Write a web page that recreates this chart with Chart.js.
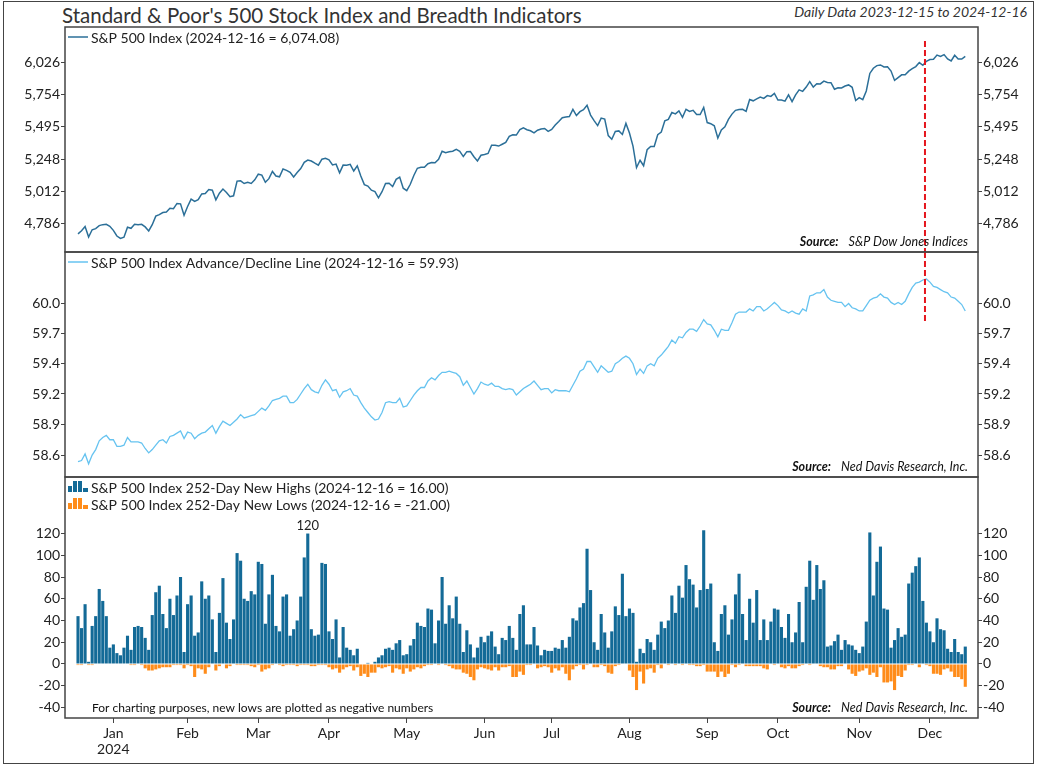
<!DOCTYPE html>
<html>
<head>
<meta charset="utf-8">
<title>S&amp;P 500 Stock Index and Breadth Indicators</title>
<script src="https://cdn.jsdelivr.net/npm/chart.js@4.4.1/dist/chart.umd.min.js"></script>
<style>
  body { margin: 0; background: #fff; font-family: Lato, sans-serif; }
  #frame { position: absolute; left: 3px; top: 1px; width: 1031px; height: 763px; border: 1.5px solid #444; box-sizing: border-box; }
  #title { position: absolute; left: 62px; top: 5px; font-size: 20.5px; line-height: 1; color: #333; white-space: nowrap; }
  #range { position: absolute; right: 11px; top: 5px; font-size: 14px; line-height: 1; font-style: italic; color: #333; white-space: nowrap; }
  .panel { position: absolute; left: 0; width: 1038px; }
</style>
</head>
<body>
<div id="frame"></div>
<div id="title">Standard &amp; Poor's 500 Stock Index and Breadth Indicators</div>
<div id="range">Daily Data 2023-12-15 to 2024-12-16</div>
<div class="panel" style="top:26px;height:227px"><canvas id="spx"></canvas></div>
<div class="panel" style="top:251px;height:227px"><canvas id="ad"></canvas></div>
<div class="panel" style="top:476px;height:288px"><canvas id="nhnl"></canvas></div>

<script>
// trading days 2023-12-15 .. 2024-12-16, x = day index
var monthLabels = ['Jan', 'Feb', 'Mar', 'Apr', 'May', 'Jun', 'Jul', 'Aug', 'Sep', 'Oct', 'Nov', 'Dec'];
var monthStarts = [10, 31, 51, 71, 93, 115, 134, 156, 178, 198, 221, 241];

var spTicks = [4786, 5012, 5248, 5495, 5754, 6026];
var adTicks = [58.60, 58.88, 59.16, 59.44, 59.72, 60.00];
var nhTicks = [-40, -20, 0, 20, 40, 60, 80, 100, 120];

//S&P 500 daily close
var spx = [
  4719.19, 4740.56, 4768.37, 4698.35, 4746.75, 4754.63, 4774.75, 4781.58, 4783.35, 4769.83,
  4742.83, 4704.81, 4688.68, 4697.24, 4763.54, 4756.50, 4783.45, 4780.24, 4783.83, 4765.98, 4739.21,
  4780.94, 4839.81, 4850.43, 4864.60, 4868.55, 4894.16, 4890.97, 4927.93, 4924.97, 4845.65,
  4906.19, 4958.61, 4942.81, 4954.23, 4995.06, 4997.91, 5026.61, 5021.84, 4953.17, 5000.62,
  5029.73, 5005.57, 4975.51, 4981.80, 5087.03, 5088.80, 5069.53, 5078.18, 5069.76, 5096.27,
  5137.08, 5130.95, 5078.65, 5104.76, 5157.36, 5123.69, 5117.94, 5175.27, 5165.31, 5150.48,
  5117.09, 5149.42, 5178.51, 5224.62, 5241.53, 5234.18, 5218.19, 5203.58, 5248.49, 5254.35,
  5243.77, 5205.81, 5211.49, 5147.21, 5204.34, 5202.39, 5209.91, 5160.64, 5199.06, 5123.41, 5061.82,
  5051.41, 5022.21, 5011.12, 4967.23, 5010.60, 5070.55, 5071.63, 5048.42, 5099.96, 5116.17, 5035.69,
  5018.39, 5064.20, 5127.79, 5180.74, 5187.70, 5187.67, 5214.08, 5222.68, 5221.42, 5246.68, 5308.15,
  5297.10, 5303.27, 5308.13, 5321.41, 5307.01, 5267.84, 5304.72, 5306.04, 5266.95, 5235.48, 5277.51,
  5283.40, 5291.34, 5354.03, 5352.96, 5346.99, 5360.79, 5375.32, 5421.03, 5433.74, 5431.60,
  5473.23, 5487.03, 5473.17, 5464.62, 5447.87, 5469.30, 5477.90, 5482.87, 5460.48,
  5475.09, 5509.01, 5537.02, 5567.19, 5572.85, 5576.98, 5633.91, 5584.54, 5615.35, 5631.22, 5667.20,
  5588.27, 5544.59, 5505.00, 5564.41, 5555.74, 5427.13, 5399.22, 5459.10, 5463.54, 5436.44, 5522.30,
  5446.68, 5346.56, 5186.33, 5240.03, 5199.50, 5319.31, 5344.16, 5344.39, 5434.43, 5455.21, 5543.22,
  5554.25, 5608.25, 5597.12, 5620.85, 5570.64, 5634.61, 5616.84, 5625.80, 5592.18, 5591.96, 5648.40,
  5528.93, 5520.07, 5503.41, 5408.42, 5471.05, 5495.52, 5554.13, 5595.76, 5626.02, 5633.09,
  5634.58, 5618.26, 5713.64, 5702.55, 5718.57, 5732.93, 5722.26, 5745.37, 5738.17, 5762.48,
  5708.75, 5709.54, 5699.94, 5751.07, 5695.94, 5751.13, 5792.04, 5780.05, 5815.03, 5859.85, 5815.26, 5842.47,
  5841.47, 5864.67, 5853.98, 5851.20, 5797.42, 5809.86, 5808.12, 5823.52, 5832.92, 5813.67, 5705.45,
  5728.80, 5712.69, 5782.76, 5929.04, 5973.10, 5995.54, 6001.35, 5983.99, 5985.38, 5949.17,
  5870.62, 5893.62, 5916.98, 5917.11, 5948.71, 5969.34, 5987.37, 6021.63, 5998.74, 6032.38,
  6047.15, 6049.88, 6086.49, 6075.11, 6090.27, 6052.85, 6034.91, 6084.19, 6051.25, 6051.09, 6074.08
];

//Advance/Decline line
var adLine = [
  58.54, 58.55, 58.61, 58.52, 58.60, 58.65, 58.73, 58.76, 58.78, 58.74,
  58.74, 58.68, 58.68, 58.69, 58.76, 58.72, 58.72, 58.72, 58.71, 58.66,
  58.62, 58.65, 58.69, 58.73, 58.74, 58.71, 58.77, 58.78, 58.80, 58.82,
  58.75, 58.81, 58.80, 58.75, 58.78, 58.80, 58.81, 58.84, 58.87, 58.80,
  58.86, 58.91, 58.89, 58.87, 58.90, 58.93, 58.97, 58.94, 58.95, 58.96,
  58.97, 59.00, 59.03, 59.01, 59.05, 59.10, 59.11, 59.12, 59.14, 59.14,
  59.08, 59.08, 59.11, 59.16, 59.21, 59.25, 59.20, 59.18, 59.17, 59.24,
  59.29, 59.25, 59.19, 59.20, 59.13, 59.18, 59.19, 59.21, 59.15, 59.14,
  59.08, 59.03, 58.99, 58.95, 58.92, 58.93, 58.99, 59.08, 59.09, 59.08,
  59.08, 59.12, 59.04, 59.05, 59.10, 59.15, 59.19, 59.22, 59.22, 59.28,
  59.31, 59.29, 59.33, 59.36, 59.36, 59.37, 59.36, 59.35, 59.32, 59.24,
  59.28, 59.22, 59.16, 59.21, 59.27, 59.25, 59.24, 59.26, 59.23, 59.23,
  59.21, 59.20, 59.21, 59.20, 59.15, 59.18, 59.21, 59.23, 59.25, 59.28,
  59.24, 59.20, 59.21, 59.21, 59.17, 59.20, 59.19, 59.19, 59.19, 59.18,
  59.24, 59.30, 59.37, 59.39, 59.46, 59.46, 59.41, 59.36, 59.42, 59.39,
  59.36, 59.37, 59.44, 59.46, 59.49, 59.51, 59.49, 59.44, 59.34, 59.39,
  59.35, 59.42, 59.44, 59.42, 59.49, 59.52, 59.56, 59.60, 59.66, 59.63,
  59.69, 59.68, 59.73, 59.76, 59.76, 59.74, 59.79, 59.85, 59.81, 59.80,
  59.75, 59.69, 59.76, 59.75, 59.75, 59.82, 59.90, 59.92, 59.92, 59.92,
  59.95, 59.93, 59.97, 59.97, 59.93, 59.95, 59.98, 60.01, 59.98, 59.94,
  59.93, 59.91, 59.93, 59.91, 59.90, 59.95, 59.93, 60.07, 60.08, 60.10,
  60.10, 60.13, 60.06, 60.03, 60.02, 60.01, 60.01, 59.97, 60.00, 59.96,
  59.95, 59.93, 59.93, 59.98, 60.03, 60.05, 60.06, 60.09, 60.06, 60.05,
  60.01, 59.99, 60.01, 59.99, 60.02, 60.09, 60.15, 60.19, 60.20, 60.22,
  60.23, 60.20, 60.16, 60.15, 60.13, 60.11, 60.10, 60.06, 60.05, 60.02,
  59.99, 59.93
];

//252-day new highs
var newHighs = [
  44, 33, 55, 2, 35, 44, 69, 58, 44, 15,
  18, 10, 8, 15, 26, 13, 34, 35, 34, 24,
  13, 45, 66, 72, 46, 33, 60, 45, 63, 80,
  11, 55, 63, 26, 29, 76, 60, 63, 41, 11,
  47, 79, 38, 23, 41, 102, 95, 60, 58, 67,
  64, 94, 92, 37, 64, 82, 35, 30, 62, 64,
  26, 32, 40, 62, 98, 120, 32, 26, 27, 93,
  92, 30, 23, 41, 6, 34, 15, 13, 8, 14,
  0, 0, 1, 0, 2, 6, 8, 14, 15, 13,
  19, 22, 8, 9, 17, 23, 38, 35, 34, 51,
  50, 19, 40, 80, 37, 54, 42, 62, 37, 11,
  31, 18, 6, 15, 25, 20, 26, 30, 16, 9,
  24, 22, 35, 24, 13, 46, 54, 18, 18, 34,
  17, 8, 13, 12, 12, 15, 14, 22, 15, 25,
  42, 40, 52, 56, 106, 68, 20, 13, 46, 29,
  15, 30, 53, 45, 83, 44, 51, 47, 2, 14,
  10, 23, 20, 13, 27, 39, 33, 40, 63, 47,
  72, 61, 91, 78, 73, 52, 68, 123, 69, 74,
  20, 12, 46, 54, 27, 41, 64, 83, 46, 22,
  60, 38, 68, 22, 41, 22, 39, 51, 50, 34,
  24, 46, 20, 29, 57, 20, 71, 95, 59, 91,
  69, 77, 16, 17, 21, 27, 13, 22, 18, 17,
  13, 10, 16, 39, 121, 63, 94, 108, 51, 50,
  15, 22, 33, 25, 27, 74, 84, 90, 98, 58,
  38, 30, 20, 42, 32, 31, 14, 11, 23, 11,
  9, 16
];

//252-day new lows, plotted negative
var newLows = [
  -1, -1, 0, -1, -1, 0, 0, 0, 0, 0,
  0, 0, 0, 0, 0, -1, -1, 0, -1, -4,
  -6, -6, -5, -4, -3, -3, -3, -1, -1, -1,
  -4, -1, -2, -12, -4, -5, -9, -3, 0, -6,
  -2, 0, -4, -2, 0, -1, -1, -1, -1, -2,
  -3, -1, -7, -5, -4, -1, 0, -1, -2, -1,
  -1, -1, -2, -1, -1, -1, -2, -2, -1, -1,
  -1, -3, -5, -4, -8, -5, -3, -2, -6, -3,
  -11, -9, -12, -8, -8, -3, -4, -3, -2, -8,
  -4, -5, -9, -4, -7, -5, -3, -4, -2, -1,
  -1, 0, -1, 0, -1, -2, -4, -5, -5, -8,
  -9, -12, -15, -5, -3, -4, -5, -6, -3, -6,
  -3, -3, -2, -12, -12, -7, -10, -1, -1, 0,
  -4, -3, -2, -3, -8, -4, -6, -3, -9, -15,
  -5, -2, -1, -5, -1, 0, -3, -3, -1, -2,
  -8, -9, -2, -1, 0, 0, -6, -12, -24, -7,
  -18, -5, -4, -8, -1, -4, 0, -1, 0, -1,
  0, -1, 0, -1, -1, -2, -2, -1, -7, -7,
  -7, -12, -7, -12, -9, -1, -3, -1, 0, -2,
  -2, -2, -2, -2, -4, -5, 0, -1, 0, -3,
  -4, -2, -4, -4, -2, -1, 0, -1, 0, 0,
  -2, -3, -3, -5, -5, -2, -2, 0, -5, -9,
  -11, -7, -6, -4, -10, -8, -12, -3, -17, -17,
  -16, -24, -11, -12, -6, -1, -1, 0, -3, 0,
  -1, -2, -9, -9, -10, -5, -4, -7, -12, -12,
  -14, -21
];

var markDay = 239.6;  //red dashed marker
var labelDay = 65;    //bar with the "120" callout

var xMin = -3.68, xMax = 254.6;
var LEFT_W = 65, RIGHT_W = 60;

Chart.defaults.font.family = 'Lato';
Chart.defaults.color = '#222';

function points(arr) {
    return arr.map(function(v, i) { return {x: i, y: v}; });
}

function sideAxis(pos, type, min, max, ticks, fmt) {
    return {
        type: type,
        position: pos,
        min: min,
        max: max,
        afterBuildTicks: function(s) { s.ticks = ticks.map(function(v) { return {value: v}; }); },
        afterFit: function(s) {
            s.width = pos === 'left' ? LEFT_W : RIGHT_W;
            //no reserved space for half labels at the ends
            s.paddingTop = 0;
            s.paddingBottom = 0;
        },
        ticks: {callback: fmt, autoSkip: false, padding: 1, font: {size: 14}, color: '#222'},
        grid: {drawOnChartArea: false, drawTicks: true, tickLength: 4, color: '#444'},
        border: {display: false}
    };
}

//panel box
var framePlugin = {
    id: 'frame',
    afterDraw: function(chart) {
        var ctx = chart.ctx, a = chart.chartArea;
        ctx.save();
        ctx.strokeStyle = '#444';
        ctx.lineWidth = 1.5;
        ctx.strokeRect(a.left, a.top, a.right - a.left, a.bottom - a.top);
        ctx.restore();
    }
};

//legend inside the panel, top left
var keyPlugin = {
    id: 'key',
    afterDraw: function(chart, args, opts) {
        var ctx = chart.ctx, a = chart.chartArea;
        ctx.save();
        ctx.font = '14px Lato';
        ctx.textBaseline = 'middle';
        (opts.items || []).forEach(function(it, k) {
            var x = a.left + 3, y = a.top + 10 + k * 17;
            if (it.kind === 'bars') {
                ctx.fillStyle = it.color;
                ctx.fillRect(x, y - 1, 4, 6);
                ctx.fillRect(x + 5, y - 6, 4, 11);
                ctx.fillRect(x + 10, y - 6, 4, 11);
                ctx.fillRect(x + 15, y + 1, 5, 4);
            } else {
                ctx.strokeStyle = it.color;
                ctx.lineWidth = 1.5;
                ctx.beginPath();
                ctx.moveTo(x, y);
                ctx.lineTo(x + 20, y);
                ctx.stroke();
            }
            ctx.fillStyle = '#222';
            ctx.fillText(it.text, x + 23, y + 1);
        });
        ctx.restore();
    }
};

//source line bottom right, optional note bottom left
var sourcePlugin = {
    id: 'source',
    afterDraw: function(chart, args, opts) {
        if (!opts.text) return;
        var ctx = chart.ctx, a = chart.chartArea;
        var y = a.bottom - 10;
        var x = a.right - 10;
        ctx.save();
        ctx.fillStyle = '#111';
        ctx.textBaseline = 'middle';
        ctx.textAlign = 'right';
        ctx.font = 'italic 12.5px Lato';
        ctx.fillText(opts.text, x, y);
        x -= ctx.measureText(opts.text).width + 10;
        ctx.font = 'italic bold 12.5px Lato';
        ctx.fillText('Source:', x, y);
        if (opts.note) {
            ctx.textAlign = 'left';
            ctx.font = '12px Lato';
            ctx.fillText(opts.note, a.left + 27, y);
        }
        ctx.restore();
    }
};

//red dashed marker line
var markPlugin = {
    id: 'mark',
    afterDatasetsDraw: function(chart, args, opts) {
        if (opts.at === undefined) return;
        var ctx = chart.ctx, a = chart.chartArea, sy = chart.scales.y;
        var x = chart.scales.x.getPixelForValue(opts.at);
        var y0 = opts.from !== undefined ? sy.getPixelForValue(opts.from) : a.top;
        var y1 = opts.to !== undefined ? sy.getPixelForValue(opts.to) : a.bottom;
        ctx.save();
        ctx.strokeStyle = '#e5161d';
        ctx.lineWidth = 2;
        ctx.setLineDash([6, 3]);
        ctx.beginPath();
        ctx.moveTo(x, y0);
        ctx.lineTo(x, y1);
        ctx.stroke();
        ctx.restore();
    }
};

//value callout above one bar
var peakPlugin = {
    id: 'peak',
    afterDatasetsDraw: function(chart, args, opts) {
        if (opts.at === undefined) return;
        var p = chart.data.datasets[0].data[opts.at];
        var ctx = chart.ctx;
        ctx.save();
        ctx.font = '13px Lato';
        ctx.fillStyle = '#222';
        ctx.textAlign = 'center';
        ctx.textBaseline = 'bottom';
        ctx.fillText(String(p.y), chart.scales.x.getPixelForValue(p.x), chart.scales.y.getPixelForValue(p.y) - 1);
        ctx.restore();
    }
};

var hiddenX = {type: 'linear', min: xMin, max: xMax, display: false};
var basePlugins = [framePlugin, keyPlugin, sourcePlugin, markPlugin, peakPlugin];
var fmtComma = function(v) { return Math.round(v).toLocaleString('en-US'); };
var fmtOne = function(v) { return v.toFixed(1); };

new Chart(document.getElementById('spx'), {
    type: 'line',
    data: {
        datasets: [{
            data: points(spx),
            borderColor: '#2b6f98',
            borderWidth: 1.5,
            pointRadius: 0,
            tension: 0
        }]
    },
    options: {
        responsive: true,
        maintainAspectRatio: false,
        animation: false,
        events: [],
        layout: {padding: {top: 1, bottom: 1, left: 0, right: 0}},
        scales: {
            x: hiddenX,
            y: sideAxis('left', 'logarithmic', 4599, 6334, spTicks, fmtComma),
            y2: sideAxis('right', 'logarithmic', 4599, 6334, spTicks, fmtComma)
        },
        plugins: {
            legend: {display: false},
            tooltip: {enabled: false},
            key: {items: [{kind: 'line', color: '#2b6f98', text: 'S&P 500 Index (2024-12-16 = 6,074.08)'}]},
            source: {text: 'S&P Dow Jones Indices'},
            mark: {at: markDay, from: 6209}
        }
    },
    plugins: basePlugins
});

new Chart(document.getElementById('ad'), {
    type: 'line',
    data: {
        datasets: [{
            data: points(adLine),
            borderColor: '#66c3f0',
            borderWidth: 1.3,
            pointRadius: 0,
            tension: 0
        }]
    },
    options: {
        responsive: true,
        maintainAspectRatio: false,
        animation: false,
        events: [],
        layout: {padding: {top: 1, bottom: 1, left: 0, right: 0}},
        scales: {
            x: hiddenX,
            y: sideAxis('left', 'logarithmic', 58.421, 60.483, adTicks, fmtOne),
            y2: sideAxis('right', 'logarithmic', 58.421, 60.483, adTicks, fmtOne)
        },
        plugins: {
            legend: {display: false},
            tooltip: {enabled: false},
            key: {items: [{kind: 'line', color: '#66c3f0', text: 'S&P 500 Index Advance/Decline Line (2024-12-16 = 59.93)'}]},
            source: {text: 'Ned Davis Research, Inc.'},
            mark: {at: markDay, to: 59.83}
        }
    },
    plugins: basePlugins
});

new Chart(document.getElementById('nhnl'), {
    type: 'bar',
    data: {
        datasets: [{
            data: points(newHighs),
            backgroundColor: '#136a97',
            barPercentage: 0.88,
            categoryPercentage: 1,
            grouped: false
        }, {
            data: points(newLows),
            backgroundColor: '#ff8c1a',
            barPercentage: 0.88,
            categoryPercentage: 1,
            grouped: false
        }]
    },
    options: {
        responsive: true,
        maintainAspectRatio: false,
        animation: false,
        events: [],
        layout: {padding: {top: 1, bottom: 1, left: 0, right: 0}},
        scales: {
            x: {
                type: 'linear',
                min: xMin,
                max: xMax,
                offset: false,
                afterBuildTicks: function(s) { s.ticks = monthStarts.map(function(v) { return {value: v}; }); },
                afterFit: function(s) { s.height = 45; },
                ticks: {
                    autoSkip: false,
                    maxRotation: 0,
                    padding: 3,
                    font: {size: 14, lineHeight: 1.1},
                    color: '#222',
                    callback: function(v, i) { return i === 0 ? [monthLabels[0], '2024'] : monthLabels[i]; }
                },
                grid: {drawOnChartArea: false, drawTicks: true, tickLength: 5, color: '#444', offset: false},
                border: {display: false}
            },
            y: sideAxis('left', 'linear', -49.7, 172, nhTicks, function(v) { return String(v); }),
            y2: sideAxis('right', 'linear', -49.7, 172, nhTicks, function(v) { return String(v); })
        },
        plugins: {
            legend: {display: false},
            tooltip: {enabled: false},
            key: {items: [
                {kind: 'bars', color: '#136a97', text: 'S&P 500 Index 252-Day New Highs (2024-12-16 = 16.00)'},
                {kind: 'bars', color: '#ff8c1a', text: 'S&P 500 Index 252-Day New Lows (2024-12-16 = -21.00)'}
            ]},
            source: {text: 'Ned Davis Research, Inc.', note: 'For charting purposes, new lows are plotted as negative numbers'},
            peak: {at: labelDay}
        }
    },
    plugins: basePlugins
});
</script>
</body>
</html>
